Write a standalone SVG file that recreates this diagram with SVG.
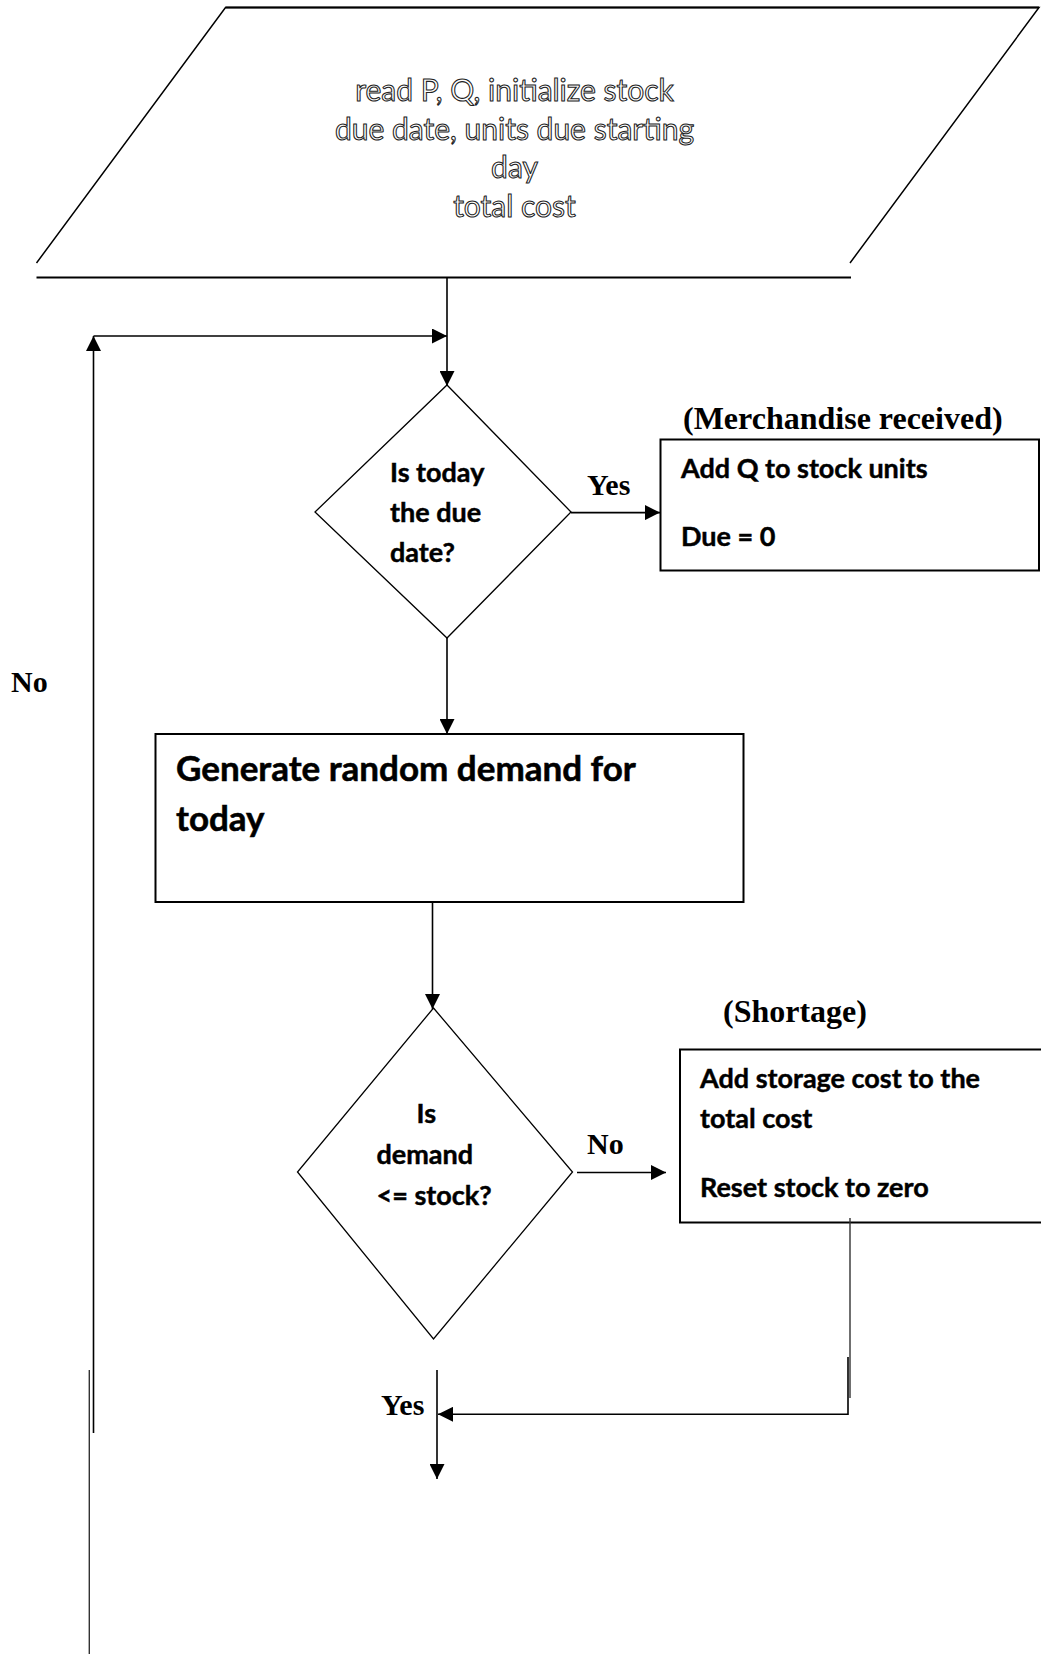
<svg xmlns="http://www.w3.org/2000/svg" width="1041" height="1654" viewBox="0 0 1041 1654">
  <style>
    .box { fill: #fff; stroke: #000; stroke-width: 2; }
    .dia { fill: #fff; stroke: #000; stroke-width: 1.3; }
    .io { fill: none; stroke: #000; stroke-width: 1.5; }
    .conn { fill: none; stroke: #000; stroke-width: 1.6; }
    .thin { fill: none; stroke: #333; stroke-width: 1.4; }
    .body { font-family: Lato, "Liberation Sans", sans-serif; font-weight: 700; font-size: 27px; fill: #000; stroke: #000; stroke-width: 0.45; }
    .big { font-size: 35px; stroke-width: 0.55; }
    .hollow { font-family: Lato, "Liberation Sans", sans-serif; font-weight: 400; font-size: 30px; fill: #fff; stroke: #222; stroke-width: 1.05; text-anchor: middle; }
    .lbl { font-family: "Liberation Serif", "Times New Roman", serif; font-weight: 700; font-size: 30px; fill: #000; }
    .hdr { font-size: 32px; }
  </style>
  <defs>
    <marker id="arrow" markerUnits="userSpaceOnUse" markerWidth="15" markerHeight="15" refX="15" refY="7.5" orient="auto">
      <path d="M0,0 L15,7.5 L0,15 Z" fill="#000"/>
    </marker>
  </defs>

  <rect width="1041" height="1654" fill="#fff"/>

  <!-- input: parameters and initial state -->
  <g id="input">
    <polyline class="io" points="36.5,263 225.5,7.5 1039,7.5 850,263"/>
    <line x1="225.5" y1="7.5" x2="1039" y2="7.5" stroke="#000" stroke-width="2"/>
    <text class="hollow" x="514.5" y="101">read P, Q, initialize stock</text>
    <text class="hollow" x="514.5" y="139.5">due date, units due starting</text>
    <text class="hollow" x="514.5" y="178">day</text>
    <text class="hollow" x="514.5" y="216.5">total cost</text>
  </g>

  <!-- decision: order arrives today? -->
  <g id="due-check">
    <polygon class="dia" points="447,385 571,512 447,638 315,512"/>
    <text class="body" x="390" y="482">Is today</text>
    <text class="body" x="390" y="522">the due</text>
    <text class="body" x="390" y="562">date?</text>
  </g>

  <!-- merchandise received -->
  <g id="receive">
    <text class="lbl hdr" x="683" y="429">(Merchandise received)</text>
    <rect class="box" x="660.5" y="439.5" width="378.5" height="131"/>
    <text class="body" x="681" y="478">Add Q to stock units</text>
    <text class="body" x="681" y="546">Due = 0</text>
  </g>

  <!-- daily demand -->
  <g id="demand">
    <rect class="box" x="155.5" y="734" width="588" height="168"/>
    <text class="body big" x="176" y="781">Generate random demand for</text>
    <text class="body big" x="176" y="831">today</text>
  </g>

  <!-- decision: enough stock? -->
  <g id="stock-check">
    <polygon class="dia" points="433.5,1008 572.5,1172 433.5,1339 297.5,1172"/>
    <text class="body" x="416.5" y="1123">Is</text>
    <text class="body" x="376.5" y="1164">demand</text>
    <text class="body" x="376.5" y="1205">&lt;= stock?</text>
  </g>

  <!-- shortage handling -->
  <g id="shortage">
    <text class="lbl hdr" x="723" y="1022">(Shortage)</text>
    <rect class="box" x="680" y="1049.5" width="370" height="173"/>
    <text class="body" x="700" y="1088">Add storage cost to the</text>
    <text class="body" x="700" y="1128">total cost</text>
    <text class="body" x="700" y="1197">Reset stock to zero</text>
  </g>

  <!-- connectors -->
  <g id="connectors">
    <line x1="36.5" y1="277.5" x2="851" y2="277.5" stroke="#000" stroke-width="2.2"/>
    <path class="conn" d="M447,277.5 V386" marker-end="url(#arrow)"/>
    <path class="conn" d="M93.5,1433 V336" marker-end="url(#arrow)"/>
    <path class="conn" d="M93.5,336 H447" marker-end="url(#arrow)"/>
    <path class="thin" d="M89.3,1370 V1654"/>
    <path class="conn" d="M447,638 V734" marker-end="url(#arrow)"/>
    <path class="conn" d="M571,512.6 H660" marker-end="url(#arrow)"/>
    <path class="conn" d="M432.5,902 V1009" marker-end="url(#arrow)"/>
    <path class="conn" d="M577,1172.5 H666" marker-end="url(#arrow)"/>
    <path class="thin" d="M850,1218 V1398"/>
    <path class="conn" d="M848,1357 V1414.3 H438" stroke-width="2" marker-end="url(#arrow)"/>
    <path class="conn" d="M437,1370 V1479" marker-end="url(#arrow)"/>
    <text class="lbl" x="587" y="495">Yes</text>
    <text class="lbl" x="587" y="1154">No</text>
    <text class="lbl" x="11" y="692">No</text>
    <text class="lbl" x="381" y="1415">Yes</text>
  </g>
</svg>
